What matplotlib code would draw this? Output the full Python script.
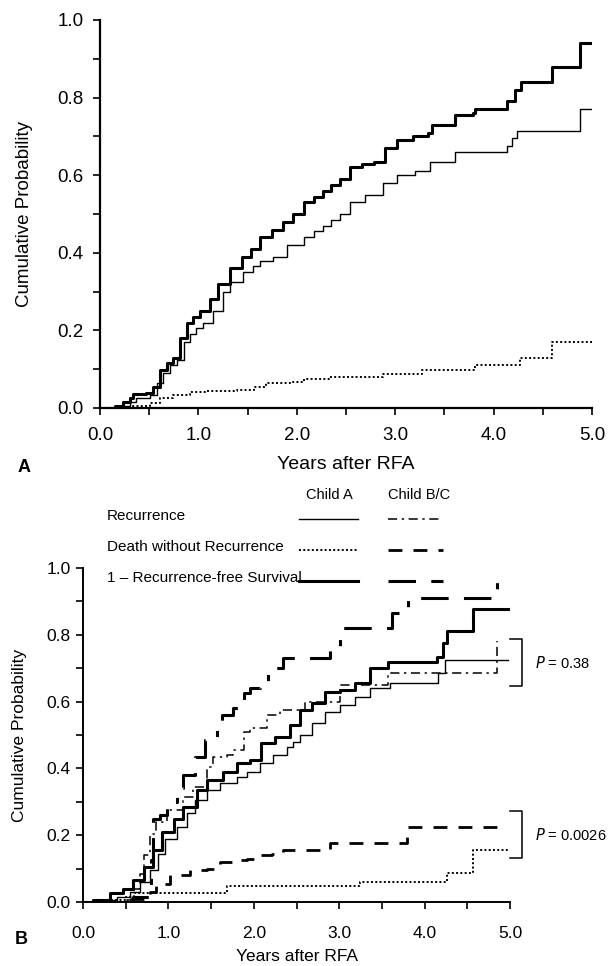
import matplotlib
matplotlib.use("Agg")
import matplotlib.pyplot as plt
from matplotlib.ticker import MultipleLocator, FormatStrFormatter

plt.rcParams['font.family'] = ['Liberation Sans', 'DejaVu Sans']

# ---- panel A: all patients ----
a_rfs_t = [0, 0.15, 0.23, 0.30, 0.34, 0.47, 0.54, 0.61, 0.68, 0.74, 0.81, 0.88, 0.95, 1.02, 1.12,
           1.20, 1.32, 1.44, 1.53, 1.63, 1.75, 1.86, 1.96, 2.07, 2.17, 2.27, 2.35, 2.44, 2.54, 2.66,
           2.78, 2.90, 3.02, 3.18, 3.33, 3.37, 3.61, 3.79, 3.81, 4.14, 4.22, 4.28, 4.59, 4.88, 5.0]
a_rfs_p = [0, 0.005, 0.015, 0.025, 0.036, 0.039, 0.054, 0.098, 0.115, 0.13, 0.18, 0.22, 0.235, 0.25, 0.28,
           0.32, 0.36, 0.39, 0.41, 0.44, 0.46, 0.48, 0.50, 0.53, 0.545, 0.56, 0.575, 0.59, 0.62, 0.63,
           0.635, 0.67, 0.69, 0.70, 0.71, 0.73, 0.755, 0.76, 0.77, 0.79, 0.82, 0.84, 0.88, 0.94, 0.94]

a_rec_t = [0, 0.23, 0.30, 0.37, 0.51, 0.58, 0.64, 0.71, 0.78, 0.85, 0.91, 0.98, 1.05, 1.15, 1.25,
           1.32, 1.45, 1.55, 1.63, 1.76, 1.90, 2.07, 2.17, 2.27, 2.35, 2.44, 2.54, 2.69, 2.88, 3.02,
           3.20, 3.35, 3.61, 4.14, 4.19, 4.24, 4.88, 5.0]
a_rec_p = [0, 0.005, 0.015, 0.025, 0.034, 0.065, 0.09, 0.11, 0.125, 0.17, 0.19, 0.205, 0.22, 0.25, 0.30,
           0.325, 0.35, 0.365, 0.38, 0.39, 0.42, 0.44, 0.455, 0.47, 0.485, 0.50, 0.53, 0.55, 0.58, 0.60,
           0.61, 0.635, 0.66, 0.675, 0.695, 0.714, 0.77, 0.77]

a_death_t = [0, 0.30, 0.51, 0.61, 0.74, 0.91, 1.08, 1.39, 1.56, 1.69, 1.96, 2.07, 2.33, 2.88, 3.27,
             3.81, 4.27, 4.59, 5.0]
a_death_p = [0, 0.005, 0.012, 0.026, 0.034, 0.04, 0.045, 0.047, 0.055, 0.064, 0.068, 0.076, 0.08, 0.087, 0.098,
             0.11, 0.128, 0.17, 0.17]

# ---- panel B: Child A vs Child B/C ----
ca_rfs_t = [0, 0.12, 0.32, 0.47, 0.59, 0.71, 0.82, 0.92, 1.06, 1.17, 1.33, 1.45, 1.64, 1.80, 1.96,
            2.09, 2.25, 2.42, 2.54, 2.68, 2.83, 3.01, 3.18, 3.36, 3.57, 4.14, 4.22, 4.26, 4.57, 4.98]
ca_rfs_p = [0, 0.005, 0.027, 0.04, 0.066, 0.105, 0.155, 0.21, 0.25, 0.285, 0.335, 0.365, 0.39, 0.415, 0.425,
            0.475, 0.495, 0.53, 0.575, 0.595, 0.63, 0.635, 0.655, 0.70, 0.72, 0.735, 0.775, 0.81, 0.877, 0.877]

ca_rec_t = [0, 0.2, 0.4, 0.55, 0.67, 0.78, 0.88, 0.96, 1.10, 1.22, 1.31, 1.45, 1.60, 1.80, 1.92,
            2.07, 2.22, 2.39, 2.46, 2.54, 2.68, 2.83, 3.01, 3.18, 3.36, 3.59, 4.16, 4.24, 4.98]
ca_rec_p = [0, 0.005, 0.015, 0.03, 0.06, 0.095, 0.145, 0.19, 0.225, 0.265, 0.305, 0.335, 0.355, 0.375, 0.39,
            0.415, 0.44, 0.465, 0.48, 0.50, 0.535, 0.57, 0.59, 0.615, 0.64, 0.655, 0.685, 0.725, 0.725]

ca_death_t = [0, 0.3, 0.5, 0.6, 1.69, 3.24, 4.26, 4.57, 4.98]
ca_death_p = [0, 0.005, 0.015, 0.027, 0.048, 0.06, 0.087, 0.156, 0.156]

cbc_rec_t = [0, 0.51, 0.60, 0.67, 0.72, 0.78, 0.86, 0.98, 1.17, 1.29, 1.45, 1.52, 1.69, 1.76, 1.88,
             1.96, 2.15, 2.31, 2.60, 3.01, 3.57, 4.85, 4.85]
cbc_rec_p = [0, 0.005, 0.04, 0.085, 0.14, 0.205, 0.24, 0.275, 0.315, 0.345, 0.405, 0.435, 0.44, 0.455, 0.51,
             0.52, 0.56, 0.575, 0.60, 0.65, 0.685, 0.685, 0.78]

cbc_death_t = [0, 0.51, 0.78, 0.86, 1.02, 1.25, 1.45, 1.60, 1.76, 1.92, 2.05, 2.21, 2.34, 2.89, 3.79, 4.85]
cbc_death_p = [0, 0.01, 0.03, 0.055, 0.08, 0.095, 0.10, 0.12, 0.125, 0.128, 0.14, 0.143, 0.156, 0.177, 0.225, 0.225]

cbc_rfs_t = [0, 0.59, 0.78, 0.80, 0.82, 0.90, 0.98, 1.10, 1.17, 1.31, 1.43, 1.57, 1.63, 1.76, 1.88,
             1.96, 2.07, 2.17, 2.34, 2.89, 3.01, 3.62, 3.81, 4.85, 4.85]
cbc_rfs_p = [0, 0.015, 0.045, 0.125, 0.25, 0.26, 0.30, 0.34, 0.38, 0.435, 0.485, 0.52, 0.56, 0.58, 0.625,
             0.64, 0.66, 0.70, 0.73, 0.765, 0.82, 0.865, 0.91, 0.91, 0.99]

row_labels = ['Recurrence', 'Death without Recurrence', '1 \u2013 Recurrence-free Survival']
group_labels = ['Child A', 'Child B/C']
p_labels = ['0.38', '0.0026']

# line styles
thin = dict(color='black', lw=1.0)
thick = dict(color='black', lw=2.2)
dotted = dict(color='black', lw=1.4, linestyle=(0, (1, 1.2)))
dashdot = dict(color='black', lw=1.1, linestyle=(0, (6, 3, 1.5, 3)))
dashed = dict(color='black', lw=2.0, linestyle=(0, (5, 4)))
longdash = dict(color='black', lw=2.2, linestyle=(0, (9, 5, 9, 5, 2, 5)))

W, H = 610, 966
fig = plt.figure(figsize=(W / 100, H / 100), dpi=100)


def style_axes(ax, lw, fs, xpad, ypad):
    for s in ['top', 'right']:
        ax.spines[s].set_visible(False)
    ax.spines['left'].set_linewidth(lw)
    ax.spines['bottom'].set_linewidth(lw)
    ax.set_xlim(0, 5.0)
    ax.set_ylim(0, 1.0)
    ax.xaxis.set_major_locator(MultipleLocator(1.0))
    ax.xaxis.set_minor_locator(MultipleLocator(0.5))
    ax.yaxis.set_major_locator(MultipleLocator(0.2))
    ax.yaxis.set_minor_locator(MultipleLocator(0.1))
    ax.xaxis.set_major_formatter(FormatStrFormatter('%.1f'))
    ax.yaxis.set_major_formatter(FormatStrFormatter('%.1f'))
    ax.tick_params(which='both', direction='out', width=1.2, length=5, labelsize=fs)
    ax.tick_params(axis='x', which='major', pad=xpad)
    ax.tick_params(axis='y', which='major', pad=ypad)


# panel A
axA = fig.add_axes([100 / W, 1 - 408 / H, 492 / W, 388 / H])
style_axes(axA, 1.6, 13.5, 9, 7)
axA.step(a_rec_t, a_rec_p, where='post', **thin)
axA.step(a_rfs_t, a_rfs_p, where='post', **thick)
axA.step(a_death_t, a_death_p, where='post', **dotted)
axA.set_xlabel('Years after RFA', fontsize=14, labelpad=8)
axA.set_ylabel('Cumulative Probability', fontsize=13.5, labelpad=17)
fig.text(18 / W, 1 - 467 / H, 'A', fontsize=13, fontweight='bold', va='center')

# panel B
axB = fig.add_axes([83 / W, 1 - 902 / H, 427 / W, 334 / H])
style_axes(axB, 1.4, 12.5, 12, 4)
axB.step(ca_rec_t, ca_rec_p, where='post', **thin)
axB.step(ca_rfs_t, ca_rfs_p, where='post', **thick)
axB.step(ca_death_t, ca_death_p, where='post', **dotted)
axB.step(cbc_rec_t, cbc_rec_p, where='post', **dashdot)
axB.step(cbc_death_t, cbc_death_p, where='post', **dashed)
axB.step(cbc_rfs_t, cbc_rfs_p, where='post', **longdash)
axB.set_xlabel('Years after RFA', fontsize=12.5, labelpad=6)
axB.set_ylabel('Cumulative Probability', fontsize=12.5, labelpad=14)
fig.text(15 / W, 1 - 940 / H, 'B', fontsize=13, fontweight='bold', va='center')

# hand-made key above panel B (in data coords of axB)
row_y = [1.147, 1.054, 0.961]
styles_a = [thin, dotted, thick]
styles_bc = [dashdot, dashed, longdash]
for lab, yy, sa, sb in zip(row_labels, row_y, styles_a, styles_bc):
    axB.text(0.28, yy + 0.01, lab, fontsize=11, ha='left', va='center')
    axB.plot([2.53, 3.22], [yy, yy], clip_on=False, **sa)
    axB.plot([3.57, 4.22], [yy, yy], clip_on=False, **sb)
axB.text(2.89, 1.219, group_labels[0], fontsize=10.5, ha='center', va='center')
axB.text(3.93, 1.219, group_labels[1], fontsize=10.5, ha='center', va='center')

# P-value brackets
for (lo, hi), lab in zip([(0.647, 0.787), (0.132, 0.272)], p_labels):
    axB.plot([5.0, 5.14, 5.14, 5.0], [hi, hi, lo, lo], color='black', lw=1.1, clip_on=False)
    axB.text(5.29, (lo + hi) / 2, '$P$ = ' + lab, fontsize=10.5, ha='left', va='center')

fig.savefig('out.png', dpi=100)
